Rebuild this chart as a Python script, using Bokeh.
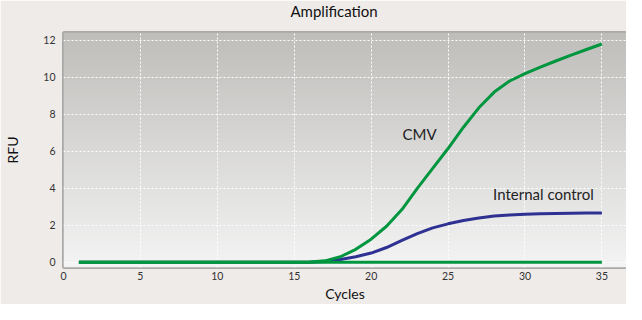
import numpy as np
from bokeh.plotting import figure
from bokeh.models import Range1d, Label, FixedTicker, Title
from bokeh.embed import file_html
from bokeh.resources import INLINE

cycles = list(range(1, 36))
cmv = [0, 0, 0, 0, 0, 0, 0, 0, 0, 0, 0, 0, 0, 0, 0,
       0.02, 0.08, 0.3, 0.7, 1.25, 1.95, 2.85, 4.0, 5.08, 6.15,
       7.3, 8.35, 9.2, 9.8, 10.2, 10.55, 10.88, 11.2, 11.5, 11.8]
internal_control = [0, 0, 0, 0, 0, 0, 0, 0, 0, 0, 0, 0, 0, 0, 0,
                    0.01, 0.05, 0.15, 0.3, 0.5, 0.8, 1.18, 1.55, 1.86, 2.08,
                    2.26, 2.4, 2.5, 2.56, 2.6, 2.62, 2.64, 2.65, 2.66, 2.67]
negative = [0] * 35
x_ticks = [0, 5, 10, 15, 20, 25, 30, 35]
y_ticks = [0, 2, 4, 6, 8, 10, 12]

X0, X1 = 0, 36.6
Y0, Y1 = -0.28, 12.42
FONT = "Lato"

p = figure(width=626, height=304, output_backend="svg", toolbar_location=None,
           x_range=Range1d(X0, X1), y_range=Range1d(Y0, Y1),
           min_border_left=63, min_border_right=0, min_border_top=30, min_border_bottom=36)

# spacer between frame and title, then the title itself
p.add_layout(Title(text=" ", text_font_size="1px", standoff=9), "above")
p.add_layout(Title(text="Amplification", align="left", offset=227, vertical_align="middle",
                   standoff=0, text_font=FONT, text_font_size="15px",
                   text_font_style="normal", text_color="#111111"), "above")

p.background_fill_color = "#efebe9"
p.border_fill_color = "#efebe9"
p.outline_line_color = "#a9a9a9"
p.outline_line_width = 3

# vertical gradient background
n = 200
top = np.array([0xbf, 0xbe, 0xbb], dtype=float)
bot = np.array([0xf4, 0xf4, 0xf4], dtype=float)
t = np.linspace(0, 1, n)[:, None]
cols = (bot * (1 - t) + top * t).astype(np.uint32)
img = np.empty((n, 1), dtype=np.uint32)
view = img.view(dtype=np.uint8).reshape((n, 1, 4))
view[:, 0, 0] = cols[:, 0]
view[:, 0, 1] = cols[:, 1]
view[:, 0, 2] = cols[:, 2]
view[:, 0, 3] = 255
p.image_rgba(image=[img], x=X0, y=Y0, dw=X1 - X0, dh=Y1 - Y0, level="image")

p.xgrid.ticker = FixedTicker(ticks=x_ticks)
p.ygrid.ticker = FixedTicker(ticks=y_ticks)
for g in (p.xgrid, p.ygrid):
    g.grid_line_color = "white"
    g.grid_line_dash = "2 2"
    g.grid_line_width = 1
    g.level = "underlay"

p.xaxis.ticker = FixedTicker(ticks=x_ticks)
p.yaxis.ticker = FixedTicker(ticks=y_ticks)
for ax in (p.xaxis, p.yaxis):
    ax.axis_line_color = None
    ax.major_tick_line_color = None
    ax.minor_tick_line_color = None
    ax.major_tick_out = 0
    ax.major_tick_in = 0
    ax.minor_tick_out = 0
    ax.major_label_text_font = FONT
    ax.major_label_text_font_size = "10.5px"
    ax.major_label_text_color = "#333333"
    ax.axis_label_text_font = FONT
    ax.axis_label_text_font_size = "14px"
    ax.axis_label_text_font_style = "normal"
    ax.axis_label_text_color = "#111111"
p.xaxis.axis_label = "Cycles"
p.yaxis.axis_label = "RFU"
p.xaxis.major_label_standoff = 4
p.yaxis.major_label_standoff = 8
p.xaxis.axis_label_standoff = 2
p.yaxis.axis_label_standoff = 19

p.line(cycles, internal_control, line_color="#2e3192", line_width=3)
p.line(cycles, cmv, line_color="#00963f", line_width=3)
p.line(cycles, negative, line_color="#00963f", line_width=3)

p.add_layout(Label(x=23.15, y=6.92, text="CMV", text_font=FONT, text_font_size="15px",
                   text_color="#222222", text_align="center", text_baseline="middle"))
p.add_layout(Label(x=31.2, y=3.68, text="Internal control", text_font=FONT,
                   text_font_size="15px", text_color="#222222", text_align="center",
                   text_baseline="middle"))

open("out.html", "w").write(file_html(p, INLINE))
